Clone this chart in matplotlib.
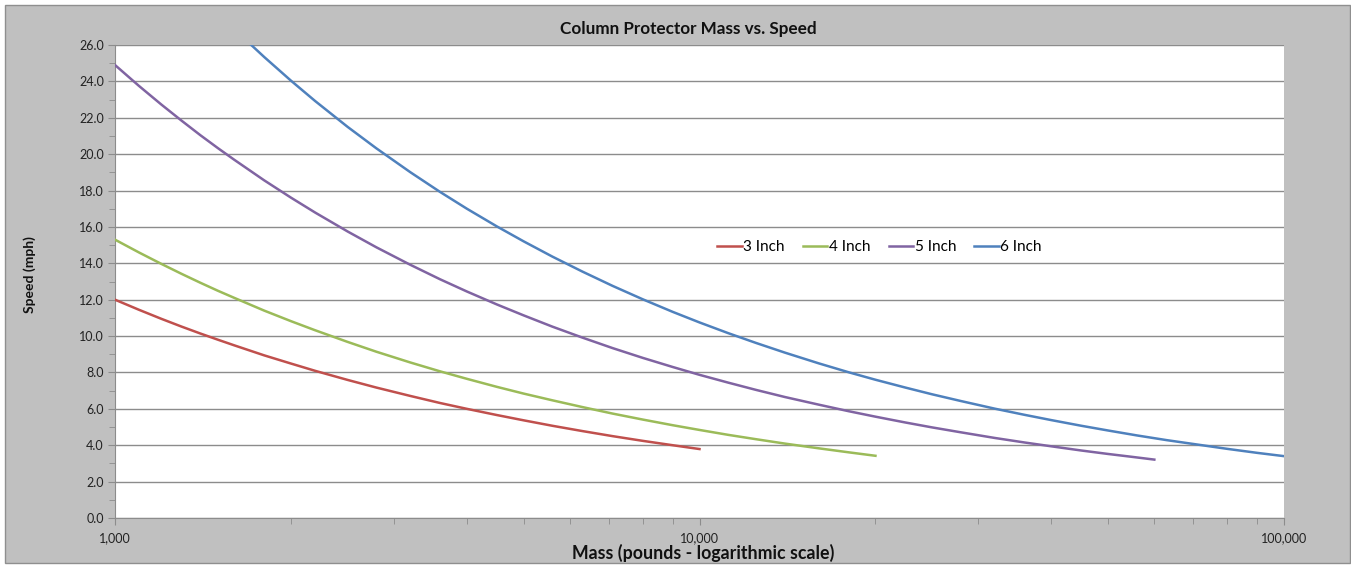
import numpy as np
import matplotlib.pyplot as plt
from matplotlib.patches import Rectangle
from matplotlib.ticker import FixedLocator, FuncFormatter, NullFormatter

# values (mass in pounds, speed in mph)
mass_3 = [1000, 1100, 1200, 1300, 1400, 1500, 1600, 1800, 2000, 2200, 2500, 2800,
          3200, 3600, 4000, 4500, 5000, 5600, 6300, 7100, 8000, 9000, 10000]
speed_3 = [12.0, 11.44, 10.95, 10.52, 10.14, 9.80, 9.49, 8.94, 8.49, 8.09, 7.59, 7.17,
           6.71, 6.32, 6.00, 5.66, 5.37, 5.07, 4.78, 4.50, 4.24, 4.00, 3.79]

mass_4 = [1000, 1100, 1200, 1300, 1400, 1500, 1600, 1800, 2000, 2200, 2500, 2800,
          3200, 3600, 4000, 4500, 5000, 5600, 6300, 7100, 8000, 9000, 10000,
          11200, 12500, 14000, 16000, 18000, 20000]
speed_4 = [15.3, 14.59, 13.97, 13.42, 12.93, 12.49, 12.10, 11.40, 10.82, 10.32, 9.68, 9.14,
           8.55, 8.06, 7.65, 7.21, 6.84, 6.47, 6.10, 5.74, 5.41, 5.10, 4.84,
           4.57, 4.33, 4.09, 3.83, 3.61, 3.42]

mass_5 = [1000, 1100, 1200, 1300, 1400, 1500, 1600, 1800, 2000, 2200, 2500, 2800,
          3200, 3600, 4000, 4500, 5000, 5600, 6300, 7100, 8000, 9000, 10000,
          11200, 12500, 14000, 16000, 18000, 20000, 22500, 25000, 28000, 32000,
          36000, 40000, 45000, 50000, 55000, 60000]
speed_5 = [24.9, 23.74, 22.73, 21.84, 21.04, 20.33, 19.69, 18.56, 17.61, 16.79, 15.75, 14.88,
           13.92, 13.12, 12.45, 11.74, 11.14, 10.52, 9.92, 9.34, 8.80, 8.30, 7.87,
           7.44, 7.04, 6.65, 6.23, 5.87, 5.57, 5.25, 4.98, 4.71, 4.40,
           4.15, 3.94, 3.71, 3.52, 3.36, 3.21]

mass_6 = [1700, 1800, 2000, 2200, 2500, 2800, 3200, 3600, 4000, 4500, 5000, 5600,
          6300, 7100, 8000, 9000, 10000, 11200, 12500, 14000, 16000, 18000, 20000,
          22500, 25000, 28000, 32000, 36000, 40000, 45000, 50000, 56000, 63000,
          71000, 80000, 90000, 100000]
speed_6 = [26.08, 25.34, 24.04, 22.92, 21.50, 20.32, 19.01, 17.92, 17.00, 16.03, 15.21, 14.37,
           13.55, 12.76, 12.02, 11.33, 10.75, 10.16, 9.62, 9.09, 8.50, 8.01, 7.60,
           7.17, 6.80, 6.43, 6.01, 5.67, 5.38, 5.07, 4.81, 4.54, 4.28,
           4.04, 3.80, 3.58, 3.40]

labels = ["3 Inch", "4 Inch", "5 Inch", "6 Inch"]
colors = ["#c0504d", "#9bbb59", "#8064a2", "#4f81bd"]

plt.rcParams['font.family'] = ['Lato', 'DejaVu Sans']

fig = plt.figure(figsize=(13.51, 5.65), dpi=100)
fig.patch.set_facecolor("white")
# grey chart area with thin border
fig.patches.append(Rectangle((5 / 1351, 2 / 565), 1 - 6 / 1351, 1 - 7 / 565,
                             transform=fig.transFigure, facecolor="#c0c0c0",
                             edgecolor="#8f8f8f", linewidth=1, zorder=-10))

ax = fig.add_axes([115 / 1351, 1 - 518 / 565, (1284 - 115) / 1351, (518 - 45) / 565])
ax.set_facecolor("white")

series = [(mass_3, speed_3), (mass_4, speed_4), (mass_5, speed_5), (mass_6, speed_6)]
for (m, s), lab, c in zip(series, labels, colors):
    ax.plot(m, s, color=c, lw=1.8, label=lab, zorder=3, solid_joinstyle="round")

ax.set_xscale("log")
ax.set_xlim(1000, 100000)
ax.set_ylim(0, 26)

ax.yaxis.set_major_locator(FixedLocator(np.arange(0, 27, 2)))
ax.yaxis.set_minor_locator(FixedLocator(np.arange(1, 26, 2)))
ax.yaxis.set_major_formatter(FuncFormatter(lambda v, p: f"{v:.1f}"))
ax.xaxis.set_major_locator(FixedLocator([1000, 10000, 100000]))
minors = [k * 10 ** e for e in (3, 4) for k in range(2, 10)]
ax.xaxis.set_minor_locator(FixedLocator(minors))
ax.xaxis.set_major_formatter(FuncFormatter(lambda v, p: f"{int(v):,}"))
ax.xaxis.set_minor_formatter(NullFormatter())

ax.yaxis.grid(True, which="major", color="#8c8c8c", lw=1.0, zorder=0)
ax.set_axisbelow(True)

for side in ("top", "right"):
    ax.spines[side].set_visible(False)
for side in ("left", "bottom"):
    ax.spines[side].set_color("#8c8c8c")

ax.tick_params(axis="both", which="both", direction="out", color="#8c8c8c",
               labelsize=9, labelcolor="#222222")
ax.tick_params(axis="y", which="major", length=5, pad=3)
ax.tick_params(axis="y", which="minor", length=4)
ax.tick_params(axis="x", which="major", length=5, pad=5)
ax.tick_params(axis="x", which="minor", length=4)

fig.text(688 / 1351, 1 - 29 / 565, "Column Protector Mass vs. Speed",
         ha="center", va="center", fontsize=12.3, fontweight="bold", color="#111111")
fig.text(30 / 1351, 1 - 275 / 565, "Speed (mph)", rotation=90, ha="center", va="center",
         fontsize=10, fontweight="bold", color="#111111")
fig.text(703 / 1351, 1 - 553 / 565, "Mass (pounds - logarithmic scale)",
         ha="center", va="center", fontsize=12.8, fontweight="bold", color="#111111")

ax.legend(loc="center", bbox_to_anchor=(0.654, 0.573), ncol=4, frameon=False,
          fontsize=11, handlelength=1.6, handletextpad=0.1, columnspacing=1.2)

fig.savefig("out.png", dpi=100)
